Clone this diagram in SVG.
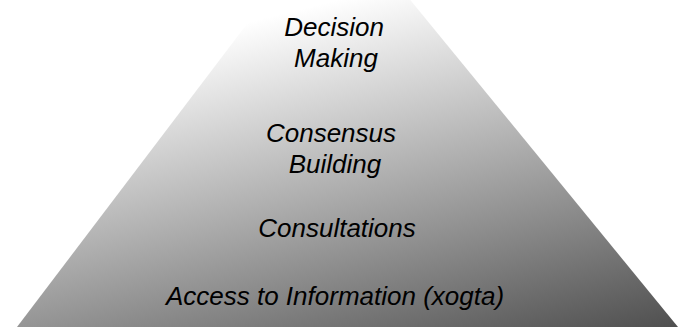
<svg xmlns="http://www.w3.org/2000/svg" width="679" height="327" viewBox="0 0 679 327">
  <style>
    .lbl { font-family: "Liberation Sans", Arial, sans-serif; font-style: italic; font-size: 26px; fill: #000; text-anchor: middle; }
  </style>
  <defs>
    <linearGradient id="pyrGrad" gradientUnits="userSpaceOnUse" x1="338" y1="0" x2="442" y2="421">
      <stop offset="0" stop-color="#ffffff"/>
      <stop offset="1" stop-color="#404040"/>
    </linearGradient>
  </defs>
  <rect width="679" height="327" fill="#ffffff"/>
  <g id="pyramid">
    <polygon points="335,-92 17,327 678,327" fill="url(#pyrGrad)"/>
  </g>
  <g id="decision-making">
    <text class="lbl" x="334" y="36">Decision</text>
    <text class="lbl" x="336" y="67">Making</text>
  </g>
  <g id="consensus-building">
    <text class="lbl" x="331" y="142">Consensus</text>
    <text class="lbl" x="335" y="173">Building</text>
  </g>
  <g id="consultations">
    <text class="lbl" x="337" y="237">Consultations</text>
  </g>
  <g id="access-to-information">
    <text class="lbl" x="335" y="305">Access to Information (xogta)</text>
  </g>
</svg>
